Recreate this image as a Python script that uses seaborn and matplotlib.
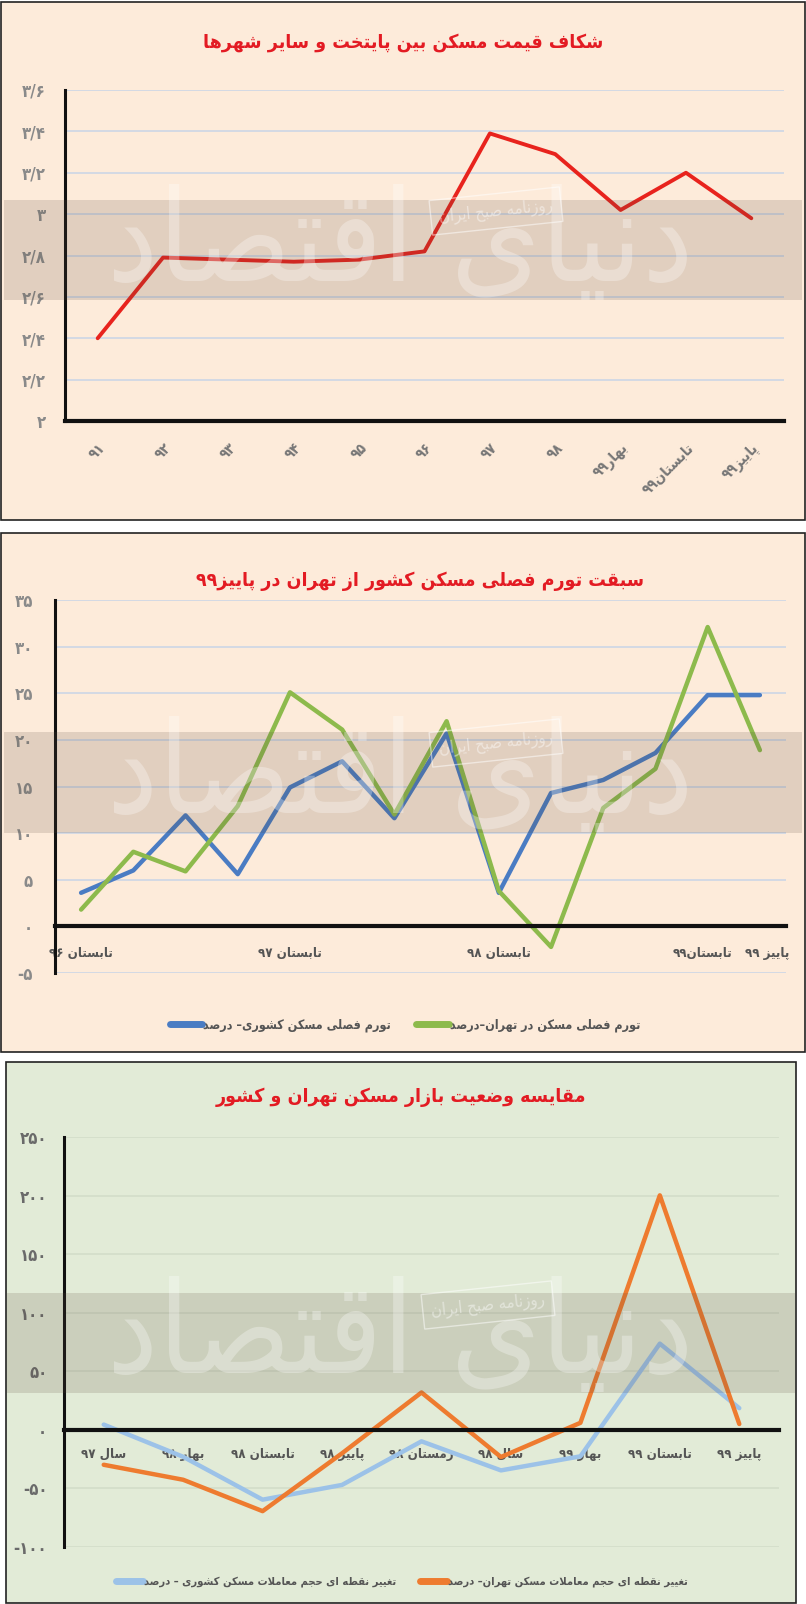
import re

import numpy as np
import pandas as pd
import seaborn as sns
import matplotlib

matplotlib.use("Agg")
import matplotlib.pyplot as plt
from matplotlib.lines import Line2D
from matplotlib.patches import Rectangle
from matplotlib.ticker import FuncFormatter
from matplotlib.transforms import ScaledTranslation

# ---- data -------------------------------------------------------------
P1_TITLE = "شکاف قیمت مسکن بین پایتخت و سایر شهرها"
P1_LABELS = ["۹۱", "۹۲", "۹۳", "۹۴", "۹۵", "۹۶", "۹۷", "۹۸",
             "بهار۹۹", "تابستان۹۹", "پاییز۹۹"]
P1_VALUES = [2.40, 2.79, 2.78, 2.77, 2.78, 2.82, 3.39, 3.29, 3.02, 3.20, 2.98]

P2_TITLE = "سبقت تورم فصلی مسکن کشور از تهران در پاییز۹۹"
P2_TICK_LABELS = ["تابستان ۹۶", "", "", "", "تابستان ۹۷", "", "", "",
                  "تابستان ۹۸", "", "", "", "تابستان۹۹", "پاییز ۹۹"]
P2_SERIES = ["تورم فصلی مسکن کشوری– درصد", "تورم فصلی مسکن در تهران–درصد"]
P2_COUNTRY = [3.6, 6.0, 11.9, 5.6, 14.9, 17.7, 11.6, 20.7, 3.6, 14.3,
              15.7, 18.6, 24.8, 24.8]
P2_TEHRAN = [1.8, 8.0, 5.9, 12.9, 25.1, 21.1, 12.0, 22.0, 3.8, -2.2,
             12.7, 16.9, 32.1, 18.9]

P3_TITLE = "مقایسه وضعیت بازار مسکن تهران و کشور"
P3_LABELS = ["سال ۹۷", "بهار ۹۸", "تابستان ۹۸", "پاییز ۹۸", "زمستان ۹۸",
             "سال ۹۸", "بهار ۹۹", "تابستان ۹۹", "پاییز ۹۹"]
P3_SERIES = ["تغییر نقطه ای حجم معاملات مسکن کشوری – درصد",
             "تغییر نقطه ای حجم معاملات مسکن تهران– درصد"]
P3_COUNTRY = [4.5, -23, -59.6, -47, -9.8, -34.6, -22.6, 73.6, 18.5]
P3_TEHRAN = [-29.8, -42.6, -69.4, -20, 31.9, -23.2, 6, 200.2, 5]

WATERMARK = "دنیای اقتصاد"
STAMP = "روزنامه صبح ایران"

PEACH = "#fdebda"
GREEN_BG = "#e2ebd7"
RED = "#e8231d"
BLUE = "#4a7cc3"
LIME = "#8dba4c"
LIGHT_BLUE = "#9cc2e8"
ORANGE = "#ee7b2f"
TITLE_RED = "#e31b23"
NARROW = "condensed"

# ---- minimal Arabic/Persian shaping (matplotlib has no bidi) ---------
FORMS = {
    "\u0627": ("\uFE8D", "\uFE8E", None, None),
    "\u0622": ("\uFE81", "\uFE82", None, None),
    "\u0628": ("\uFE8F", "\uFE90", "\uFE91", "\uFE92"),
    "\u067E": ("\uFB56", "\uFB57", "\uFB58", "\uFB59"),
    "\u062A": ("\uFE95", "\uFE96", "\uFE97", "\uFE98"),
    "\u062B": ("\uFE99", "\uFE9A", "\uFE9B", "\uFE9C"),
    "\u062C": ("\uFE9D", "\uFE9E", "\uFE9F", "\uFEA0"),
    "\u0686": ("\uFB7A", "\uFB7B", "\uFB7C", "\uFB7D"),
    "\u062D": ("\uFEA1", "\uFEA2", "\uFEA3", "\uFEA4"),
    "\u062E": ("\uFEA5", "\uFEA6", "\uFEA7", "\uFEA8"),
    "\u062F": ("\uFEA9", "\uFEAA", None, None),
    "\u0630": ("\uFEAB", "\uFEAC", None, None),
    "\u0631": ("\uFEAD", "\uFEAE", None, None),
    "\u0632": ("\uFEAF", "\uFEB0", None, None),
    "\u0698": ("\uFB8A", "\uFB8B", None, None),
    "\u0633": ("\uFEB1", "\uFEB2", "\uFEB3", "\uFEB4"),
    "\u0634": ("\uFEB5", "\uFEB6", "\uFEB7", "\uFEB8"),
    "\u0635": ("\uFEB9", "\uFEBA", "\uFEBB", "\uFEBC"),
    "\u0636": ("\uFEBD", "\uFEBE", "\uFEBF", "\uFEC0"),
    "\u0637": ("\uFEC1", "\uFEC2", "\uFEC3", "\uFEC4"),
    "\u0638": ("\uFEC5", "\uFEC6", "\uFEC7", "\uFEC8"),
    "\u0639": ("\uFEC9", "\uFECA", "\uFECB", "\uFECC"),
    "\u063A": ("\uFECD", "\uFECE", "\uFECF", "\uFED0"),
    "\u0641": ("\uFED1", "\uFED2", "\uFED3", "\uFED4"),
    "\u0642": ("\uFED5", "\uFED6", "\uFED7", "\uFED8"),
    "\u06A9": ("\uFB8E", "\uFB8F", "\uFB90", "\uFB91"),
    "\u06AF": ("\uFB92", "\uFB93", "\uFB94", "\uFB95"),
    "\u0644": ("\uFEDD", "\uFEDE", "\uFEDF", "\uFEE0"),
    "\u0645": ("\uFEE1", "\uFEE2", "\uFEE3", "\uFEE4"),
    "\u0646": ("\uFEE5", "\uFEE6", "\uFEE7", "\uFEE8"),
    "\u0647": ("\uFEE9", "\uFEEA", "\uFEEB", "\uFEEC"),
    "\u0648": ("\uFEED", "\uFEEE", None, None),
    "\u06CC": ("\uFBFC", "\uFBFD", "\uFBFE", "\uFBFF"),
    "\u064A": ("\uFEF1", "\uFEF2", "\uFEF3", "\uFEF4"),
}


def joins_forward(ch):
    return ch in FORMS and FORMS[ch][2] is not None


def shape(text):
    out = []
    i = 0
    while i < len(text):
        ch = text[i]
        if ch not in FORMS:
            out.append(ch)
            i += 1
            continue
        prev_join = i > 0 and joins_forward(text[i - 1])
        if ch == "\u0644" and i + 1 < len(text) and text[i + 1] == "\u0627":
            out.append("\uFEFC" if prev_join else "\uFEFB")
            i += 2
            continue
        next_join = joins_forward(ch) and i + 1 < len(text) and text[i + 1] in FORMS
        iso, fin, ini, med = FORMS[ch]
        if prev_join and next_join:
            out.append(med)
        elif prev_join:
            out.append(fin)
        elif next_join:
            out.append(ini)
        else:
            out.append(iso)
        i += 1
    return "".join(out)


def rtl(text):
    tokens = re.findall(r"[0-9\u06F0-\u06F9]+|.", shape(text))
    return "".join(reversed(tokens))


FA_DIGITS = str.maketrans("0123456789", "۰۱۲۳۴۵۶۷۸۹")


def fa_number(value, _pos=None):
    if abs(value - round(value)) < 1e-9:
        text = str(int(round(value)))
    else:
        text = f"{value:.1f}".replace(".", "/")
    return text.translate(FA_DIGITS)


# ---- figure -----------------------------------------------------------
sns.set_theme(style="white")
plt.rcParams["font.family"] = ["DejaVu Sans"]
plt.rcParams["font.weight"] = "bold"
plt.rcParams["font.stretch"] = NARROW

W, H = 806, 1604
fig = plt.figure(figsize=(W / 100, H / 100), dpi=100)
fig.patch.set_facecolor("white")


def fx(x):
    return x / W


def fy(y):
    return 1 - y / H


def add_axes_px(left, top, right, bottom):
    ax = fig.add_axes([fx(left), fy(bottom), (right - left) / W, (bottom - top) / H])
    ax.set_facecolor("none")
    return ax


def panel(x0, y0, x1, y1, color):
    fig.add_artist(Rectangle((fx(x0), fy(y1)), (x1 - x0) / W, (y1 - y0) / H,
                             transform=fig.transFigure, facecolor=color,
                             edgecolor="#222222", linewidth=1.2, zorder=-10))


def watermark(x0, x1, band_top, band_bottom, stamp_xy):
    fig.add_artist(Rectangle((fx(x0), fy(band_bottom)), (x1 - x0) / W,
                             (band_bottom - band_top) / H, transform=fig.transFigure,
                             facecolor="#5a4a3c", alpha=0.17, linewidth=0, zorder=5))
    fig.text(fx(400), fy((band_top + band_bottom) / 2 - 5), rtl(WATERMARK),
             fontsize=92, fontweight="normal", color="white", alpha=0.3,
             ha="center", va="center", zorder=6)
    fig.text(fx(stamp_xy[0]), fy(stamp_xy[1]), rtl(STAMP), fontsize=12,
             fontweight="normal", color="white", alpha=0.45, rotation=6,
             ha="center", va="center", zorder=6,
             bbox=dict(boxstyle="square,pad=0.5", facecolor="none",
                       edgecolor="white", alpha=0.5, linewidth=1))


def style_axes(ax, grid_color, tick_color, ypad):
    for side in ["top", "right"]:
        ax.spines[side].set_visible(False)
    ax.spines["left"].set_color("#111111")
    ax.spines["left"].set_linewidth(2.2)
    ax.spines["bottom"].set_color("#111111")
    ax.spines["bottom"].set_linewidth(3)
    ax.grid(axis="y", color=grid_color, linewidth=1.4)
    ax.grid(axis="x", visible=False)
    ax.set_axisbelow(True)
    ax.tick_params(axis="both", length=0)
    ax.tick_params(axis="y", pad=ypad, labelsize=12, labelcolor=tick_color)
    ax.set_xlabel("")
    ax.set_ylabel("")


def nudge(label, dx_px):
    label.set_transform(label.get_transform() + ScaledTranslation(dx_px / 100, 0, fig.dpi_scale_trans))


# panel 1 ---------------------------------------------------------------
panel(1, 2, 805, 520, PEACH)
fig.text(fx(403), fy(42), rtl(P1_TITLE), fontsize=14, color=TITLE_RED,
         ha="center", va="center")
ax1 = add_axes_px(65, 90, 784, 421)
df1 = pd.DataFrame({"pos": np.arange(len(P1_LABELS)), "value": P1_VALUES})
sns.lineplot(data=df1, x="pos", y="value", color=RED, linewidth=2.8, ax=ax1)
ax1.set_xlim(-0.5, len(P1_LABELS) - 0.5)
ax1.set_ylim(2, 3.6)
ax1.set_yticks(np.round(np.arange(2, 3.61, 0.2), 1))
ax1.yaxis.set_major_formatter(FuncFormatter(fa_number))
ax1.set_xticks(df1["pos"])
ax1.set_xticklabels([rtl(t) for t in P1_LABELS], rotation=45, ha="right",
                    rotation_mode="anchor")
style_axes(ax1, "#d3d9e4", "#8a8a8a", 14)
ax1.tick_params(axis="x", pad=14, labelsize=10.5, labelcolor="#777777")
watermark(4, 802, 200, 300, (496, 211))

# panel 2 ---------------------------------------------------------------
panel(1, 533, 805, 1052, PEACH)
fig.text(fx(420), fy(581), rtl(P2_TITLE), fontsize=14, color=TITLE_RED,
         ha="center", va="center")
ax2 = add_axes_px(55, 600, 786, 973)
df2 = pd.DataFrame({
    "pos": np.tile(np.arange(len(P2_COUNTRY)), 2),
    "value": P2_COUNTRY + P2_TEHRAN,
    "series": [P2_SERIES[0]] * len(P2_COUNTRY) + [P2_SERIES[1]] * len(P2_TEHRAN),
})
sns.lineplot(data=df2, x="pos", y="value", hue="series", hue_order=P2_SERIES,
             palette=[BLUE, LIME], linewidth=3.2, legend=False, ax=ax2)
ax2.set_xlim(-0.5, len(P2_COUNTRY) - 0.5)
ax2.set_ylim(-5, 35)
ax2.set_yticks(np.arange(-5, 36, 5))
ax2.yaxis.set_major_formatter(FuncFormatter(fa_number))
ax2.set_xticks(np.arange(len(P2_TICK_LABELS)))
ax2.set_xticklabels([rtl(t) for t in P2_TICK_LABELS])
style_axes(ax2, "#d3d9e4", "#8a8a8a", 16)
ax2.spines["bottom"].set_position(("data", 0))
ax2.tick_params(axis="x", pad=15, labelsize=9.5, labelcolor="#555555")
p2_labels = ax2.get_xticklabels()
nudge(p2_labels[12], -5)
nudge(p2_labels[13], 7)
fig.legend(handles=[Line2D([], [], color=BLUE, lw=5, solid_capstyle="round"),
                    Line2D([], [], color=LIME, lw=5, solid_capstyle="round")],
           labels=[rtl(s) for s in P2_SERIES], loc="center", ncol=2,
           bbox_to_anchor=(fx(405), fy(1025)), frameon=False, fontsize=9,
           handlelength=2.6, handletextpad=0.1, columnspacing=2.0,
           labelcolor="#555555")
watermark(4, 802, 732, 833, (496, 743))

# panel 3 ---------------------------------------------------------------
panel(6, 1062, 796, 1603, GREEN_BG)
fig.text(fx(401), fy(1097), rtl(P3_TITLE), fontsize=14, color=TITLE_RED,
         ha="center", va="center")
ax3 = add_axes_px(64, 1137, 779, 1547)
df3 = pd.DataFrame({
    "pos": np.tile(np.arange(len(P3_LABELS)), 2),
    "value": P3_COUNTRY + P3_TEHRAN,
    "series": [P3_SERIES[0]] * len(P3_COUNTRY) + [P3_SERIES[1]] * len(P3_TEHRAN),
})
sns.lineplot(data=df3, x="pos", y="value", hue="series", hue_order=P3_SERIES,
             palette=[LIGHT_BLUE, ORANGE], linewidth=3.2, legend=False, ax=ax3)
ax3.set_xlim(-0.5, len(P3_LABELS) - 0.5)
ax3.set_ylim(-100, 250)
ax3.set_yticks(np.arange(-100, 251, 50))
ax3.yaxis.set_major_formatter(FuncFormatter(fa_number))
ax3.set_xticks(np.arange(len(P3_LABELS)))
ax3.set_xticklabels([rtl(t) for t in P3_LABELS])
style_axes(ax3, "#d5dfcb", "#6a6a6a", 12)
ax3.spines["bottom"].set_position(("data", 0))
ax3.tick_params(axis="x", pad=13, labelsize=9.5, labelcolor="#555555")
fig.legend(handles=[Line2D([], [], color=LIGHT_BLUE, lw=5),
                    Line2D([], [], color=ORANGE, lw=5)],
           labels=[rtl(s) for s in P3_SERIES], loc="center", ncol=2,
           bbox_to_anchor=(fx(402), fy(1582)), frameon=False, fontsize=8,
           handlelength=2.4, handletextpad=0.1, columnspacing=2.2,
           labelcolor="#555555")
watermark(7, 795, 1293, 1393, (488, 1305))

fig.savefig("out.png", dpi=100)
